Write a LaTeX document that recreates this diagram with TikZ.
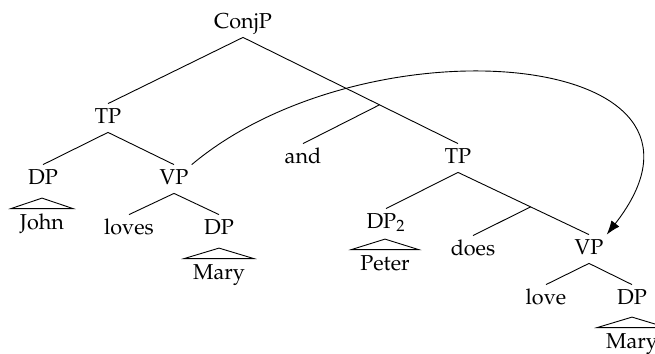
\documentclass[tikz,border=0pt]{standalone}
\usepackage[T1]{fontenc}
\usepackage{mathpazo}
\usetikzlibrary{calc,arrows.meta}
\begin{document}
\begin{tikzpicture}[x=0.5pt,y=-0.5pt,
  every node/.style={font=\fontsize{10.8}{13}\selectfont},
  lbl/.style={anchor=base,inner xsep=1.5pt,inner ysep=2.5pt,text height=7pt,text depth=2pt},
  leaf/.style={anchor=base,inner xsep=4.3pt,inner ysep=3pt,text height=7pt,text depth=2pt},
  branch/.style={line width=0.45pt},
  roof/.style={line width=0.45pt,line join=miter},
  move/.style={line width=0.45pt,-{Latex[length=7pt,width=5pt]}}
]
\useasboundingbox (0,0) rectangle (655,354);

% labels and words
\node[lbl]  (conjp) at (243,28)  {ConjP};
\node[lbl]  (tpa)   at (108,123) {TP};
\node[lbl]  (dpa)   at (43,184)  {DP};
\node[lbl]  (vpa)   at (174,184) {VP};
\node[leaf] (john)  at (42,229)  {John};
\node[lbl]  (loves) at (129,234) {loves};
\node[lbl]  (dpb)   at (219,234) {DP};
\node[leaf] (marya) at (219,279) {Mary};
\node[lbl]  (and)   at (303,163) {and};
\node[lbl]  (tpb)   at (458,163) {TP};
\node[lbl]  (dpc)   at (386,228) {DP$_2$};
\node[leaf] (peter) at (385,270) {Peter};
\node[lbl]  (does)  at (473,255) {does};
\node[lbl]  (vpb)   at (589,254) {VP};
\node[lbl]  (love)  at (546,304) {love};
\node[lbl]  (dpd)   at (632,304) {DP};
\node[leaf] (maryb) at (632,348) {Mary};

% unlabelled intermediate projections
\coordinate (bara) at ($(conjp.south)!0.635!(tpb.north)$);
\coordinate (barb) at ($(tpb.south)!0.554!(vpb.north)$);

% branches
\draw[branch] (conjp.south) -- (tpa.north);
\draw[branch] (conjp.south) -- (bara) -- (tpb.north);
\draw[branch] (bara) -- (and.north);
\draw[branch] (tpa.south) -- (dpa.north);
\draw[branch] (tpa.south) -- (vpa.north);
\draw[branch] (vpa.south) -- (loves.north);
\draw[branch] (vpa.south) -- (dpb.north);
\draw[branch] (tpb.south) -- (dpc.north);
\draw[branch] (tpb.south) -- (barb) -- (vpb.north);
\draw[branch] (barb) -- (does.north);
\draw[branch] (vpb.south) -- (love.north);
\draw[branch] (vpb.south) -- (dpd.north);

% roofs over unanalysed phrases
\foreach \w in {john,marya,peter,maryb}
  \draw[roof] (\w.north west) -- ([yshift=5.25pt]\w.north) -- (\w.north east) -- cycle;

% movement arrow
\draw[move] (vpa.north east) .. controls +(-40:230) and +(-52:235) .. (vpb.north east);
\end{tikzpicture}
\end{document}
